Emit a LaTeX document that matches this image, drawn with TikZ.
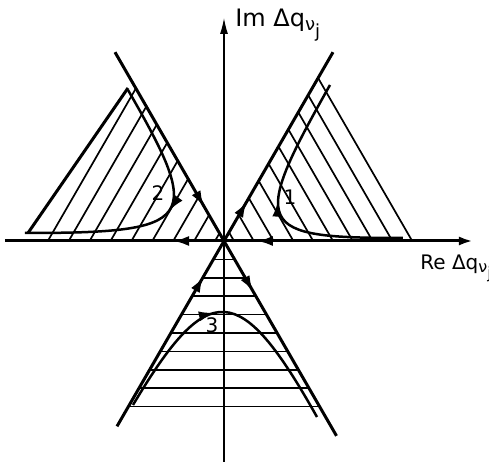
\documentclass[tikz,border=0pt]{standalone}
\usepackage{fontspec}
\setmainfont{DejaVu Sans}
\usetikzlibrary{arrows.meta,decorations.markings}

\begin{document}
\begin{tikzpicture}[x=0.5pt, y=0.5pt, every node/.style={inner sep=0pt, font=\fontsize{10}{12}\selectfont},
	bnd/.style={line width=1.5pt},
	hatch/.style={line width=0.85pt},
	traj/.style={line width=1.25pt},
	flow/.style={postaction={decorate, decoration={markings, mark=at position #1 with {\arrow{Latex[length=8pt,width=5pt]}}}}},
	backflow/.style={postaction={decorate, decoration={markings, mark=at position #1 with {\arrowreversed{Latex[length=8pt,width=5pt]}}}}}]
	\useasboundingbox (-224,-224) rectangle (265,241);
	\coordinate (O) at (0,0);
	% hatching of the three sectors
	\foreach \k in {0,...,9} {\pgfmathsetmacro\d{10+19.8*\k} \draw[hatch] (\d,0) -- (60:\d);}
	\foreach \k in {0,...,8} {\pgfmathsetmacro\d{9+20.9*\k} \draw[hatch] (-\d,0) -- (120:\d);}
	\foreach \k in {1,...,9} {\pgfmathsetmacro\d{21.25*\k} \draw[hatch] (240:\d) -- (300:\d);}
	% axes
	\draw[line width=0.6pt, -{Latex[length=8pt,width=4pt]}] (0,-221) coordinate (imlow) -- (0,223) coordinate (imtop);
	\draw[bnd, -{Latex[length=7pt,width=4.5pt]}, backflow=0.359, backflow=0.538] (-219,0) coordinate (relow) -- (249,0) coordinate (retop);
	% sector boundaries
	\draw[bnd, flow=0.21] (O) -- (60:218) coordinate (b1);
	\draw[bnd, flow=0.82] (120:218) coordinate (b2) -- (O);
	\draw[bnd, flow=0.81] (240:214) coordinate (b3) -- (O);
	\draw[bnd, flow=0.26] (O) -- (300:225) coordinate (b4);
	\draw[bnd] (-196,8) -- (-96,153);
	% trajectories
	\draw[traj, flow=0.53] (179,3) .. controls (31,3) and (25,12.5) .. (106,156);
	\draw[traj, flow=0.47] (-96,151) .. controls (-20,19.4) and (-28,8) .. (-199,8);
	\draw[traj, flow=0.45] (-91,-164) .. controls (-15.5,-37) and (16,-39) .. (93,-176);
	% labels
	\node[anchor=base west, font=\fontsize{12}{14}\selectfont] (imlab) at (11,214) {Im Δq\raisebox{-0.25ex}{\small ν}\raisebox{-0.8ex}{\small j}};
	\node[anchor=base west] (relab) at (196,-29) {Re Δq\raisebox{-0.25ex}{\footnotesize ν}\raisebox{-0.8ex}{\footnotesize j}};
	\node (n1) at (66,44) {1};
	\node (n2) at (-66,48) {2};
	\node (n3) at (-12,-84) {3};
\end{tikzpicture}
\end{document}
